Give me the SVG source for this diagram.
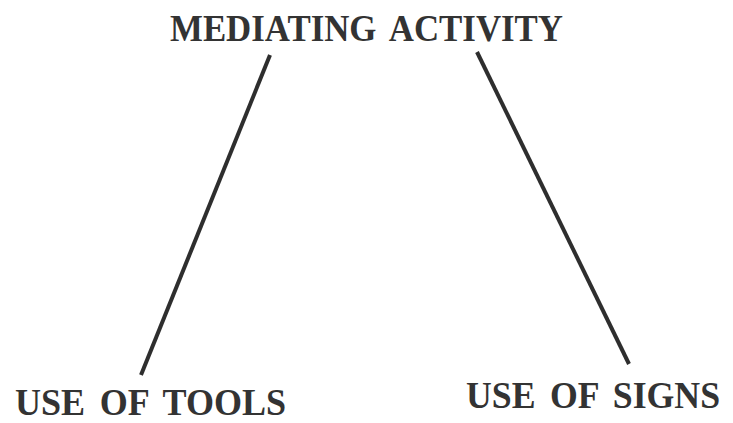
<svg xmlns="http://www.w3.org/2000/svg" width="733" height="423" viewBox="0 0 733 423">
<style>
.t{font-family:"Liberation Serif","Times New Roman",serif;font-weight:bold;fill:#333333;font-size:38px;word-spacing:6px}
.c{stroke:#2e2e2e;stroke-width:4;stroke-linecap:butt;fill:none}
</style>
<rect width="733" height="423" fill="#ffffff"/>
<g id="connectors">
<line class="c" x1="270" y1="55" x2="141" y2="375"/>
<line class="c" x1="477" y1="52" x2="629" y2="364"/>
</g>
<g id="mediating">
<text class="t" x="170" y="41" textLength="393" lengthAdjust="spacingAndGlyphs">MEDIATING ACTIVITY</text>
</g>
<g id="tools">
<text class="t" x="15" y="415" textLength="271" lengthAdjust="spacingAndGlyphs">USE OF TOOLS</text>
</g>
<g id="signs">
<text class="t" transform="translate(466,408) scale(0.94,1)" x="0" y="0">USE OF SIGNS</text>
</g>
</svg>
